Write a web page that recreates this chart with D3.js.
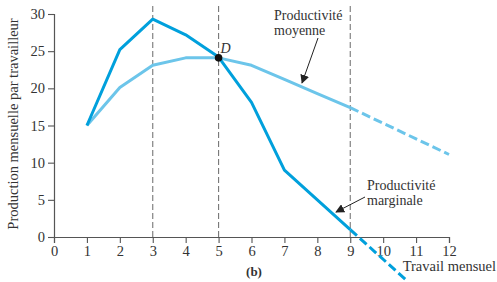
<!DOCTYPE html>
<html>
<head>
<meta charset="utf-8">
<script src="https://cdn.jsdelivr.net/npm/d3@7"></script>
<style>
  body { margin: 0; background: #fff; }
  text { font-family: "Liberation Serif", "DejaVu Serif", serif; fill: #333; }
</style>
</head>
<body>
<div id="chart"></div>
<script>
// labour units and the two curves (solid part, then the dashed extension)
var labour = [1, 2, 3, 4, 5, 6, 7, 8, 9];
var marginal = [15, 25.2, 29.3, 27.2, 24.2, 18.1, 9, 5, 1];
var average = [15, 20.1, 23.1, 24.1, 24.1, 23.1, 21.2, 19.3, 17.4];
var marginalExtX = [9, 10.7];
var marginalExtY = [1, -5.8];
var averageExtX = [9, 10, 11, 12];
var averageExtY = [17.4, 15.3, 13.2, 11.1];
var markers = [3, 5, 9];
var xTicks = [0, 1, 2, 3, 4, 5, 6, 7, 8, 9, 10, 11, 12];
var yTicks = [0, 5, 10, 15, 20, 25, 30];
var pointD = {x: 5, y: 24.1};

var width = 497, height = 282;
var darkBlue = "#00a0dc", lightBlue = "#6cc5ea";

var svg = d3.select("#chart").append("svg")
    .attr("width", width)
    .attr("height", height);

var x = d3.scaleLinear().domain([0, 12]).range([54, 449]);
var y = d3.scaleLinear().domain([0, 30]).range([237, 14]);

// dashed reference lines
svg.selectAll("line.marker").data(markers).enter().append("line")
    .attr("class", "marker")
    .attr("x1", function(d){ return x(d); })
    .attr("x2", function(d){ return x(d); })
    .attr("y1", y(0))
    .attr("y2", y(31.4))
    .attr("stroke", "#777")
    .attr("stroke-width", 1.1)
    .attr("stroke-dasharray", "6,3");

// axes
var xAxis = svg.append("g")
    .attr("transform", "translate(0," + y(0) + ")")
    .call(d3.axisBottom(x).tickValues(xTicks).tickSize(6).tickPadding(3).tickFormat(d3.format("d")));
var yAxis = svg.append("g")
    .attr("transform", "translate(" + x(0) + ",0)")
    .call(d3.axisLeft(y).tickValues(yTicks).tickSize(6).tickPadding(3).tickFormat(d3.format("d")));

[xAxis, yAxis].forEach(function(a){
    a.select(".domain").attr("stroke", "#555").attr("stroke-width", 1.2);
    a.selectAll(".tick line").attr("stroke", "#555").attr("stroke-width", 1.1);
    a.selectAll(".tick text")
        .style("font-family", "'Liberation Serif', serif")
        .style("font-size", "14.5px")
        .attr("fill", "#333");
});

var line = d3.line()
    .x(function(d){ return x(d[0]); })
    .y(function(d){ return y(d[1]); });

function pairs(xs, ys){
    return xs.map(function(v, i){ return [v, ys[i]]; });
}

// average productivity
svg.append("path")
    .attr("d", line(pairs(labour, average)))
    .attr("fill", "none").attr("stroke", lightBlue).attr("stroke-width", 3)
    .attr("stroke-linejoin", "round");
svg.append("path")
    .attr("d", line(pairs(averageExtX, averageExtY)))
    .attr("fill", "none").attr("stroke", lightBlue).attr("stroke-width", 3)
    .attr("stroke-dasharray", "9,4");

// marginal productivity
svg.append("path")
    .attr("d", line(pairs(labour, marginal)))
    .attr("fill", "none").attr("stroke", darkBlue).attr("stroke-width", 3)
    .attr("stroke-linejoin", "round");
svg.append("path")
    .attr("d", line(pairs(marginalExtX, marginalExtY)))
    .attr("fill", "none").attr("stroke", darkBlue).attr("stroke-width", 3)
    .attr("stroke-dasharray", "9,4");

// point D
svg.append("circle")
    .attr("cx", x(pointD.x)).attr("cy", y(pointD.y)).attr("r", 3.8)
    .attr("fill", "#111");
svg.append("text")
    .attr("x", x(pointD.x) + 2).attr("y", y(pointD.y) - 5)
    .style("font-size", "14px").style("font-style", "italic")
    .text("D");

// arrow head
svg.append("defs").append("marker")
    .attr("id", "arrow")
    .attr("viewBox", "0 0 10 10")
    .attr("refX", 9).attr("refY", 5)
    .attr("markerWidth", 9).attr("markerHeight", 9)
    .attr("markerUnits", "userSpaceOnUse")
    .attr("orient", "auto")
    .append("path").attr("d", "M0,0 L10,5 L0,10 z").attr("fill", "#222");

// annotations
function note(lines, tx, ty, ax1, ay1, ax2, ay2){
    var t = svg.append("text").attr("x", tx).attr("y", ty).style("font-size", "14px");
    lines.forEach(function(s, i){
        t.append("tspan").attr("x", tx).attr("dy", i == 0 ? 0 : 15).text(s);
    });
    svg.append("line")
        .attr("x1", ax1).attr("y1", ay1).attr("x2", ax2).attr("y2", ay2)
        .attr("stroke", "#222").attr("stroke-width", 1)
        .attr("marker-end", "url(#arrow)");
}
note(["Productivité", "moyenne"], 274, 20, 318, 38, 302, 83);
note(["Productivité", "marginale"], 367, 190, 365, 197, 336, 212);

// axis titles
svg.append("text")
    .attr("transform", "translate(18," + 124 + ") rotate(-90)")
    .attr("text-anchor", "middle")
    .style("font-size", "14.5px")
    .text("Production mensuelle par travailleur");
svg.append("text")
    .attr("x", 496).attr("y", 271)
    .attr("text-anchor", "end")
    .style("font-size", "14.5px")
    .text("Travail mensuel");
svg.append("text")
    .attr("x", 254).attr("y", 276)
    .attr("text-anchor", "middle")
    .style("font-size", "13px").style("font-weight", "bold")
    .text("(b)");
</script>
</body>
</html>
